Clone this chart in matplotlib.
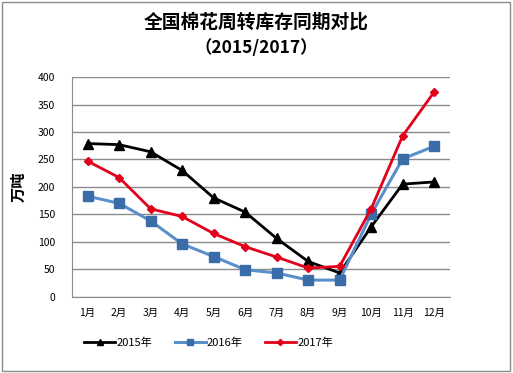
import matplotlib.pyplot as plt
from matplotlib.patches import Rectangle

plt.rcParams['font.family'] = ['Noto Sans CJK SC', 'DejaVu Sans']

months = ['1月', '2月', '3月', '4月', '5月', '6月', '7月', '8月', '9月', '10月', '11月', '12月']
y2015 = [279, 277, 264, 230, 180, 154, 106, 64, 43, 127, 205, 209]
y2016 = [183, 170, 138, 96, 73, 49, 43, 30, 30, 150, 251, 274]
y2017 = [247, 217, 160, 146, 115, 91, 72, 52, 55, 160, 293, 373]

fig = plt.figure(figsize=(5.13, 3.73), dpi=100)
ax = fig.add_axes([0.140, 0.205, 0.737, 0.588])
x = range(1, 13)

ax.plot(x, y2015, color='black', lw=2, marker='^', ms=7, label='2015年')
ax.plot(x, y2016, color='#5b8fcc', lw=2.2, marker='s', ms=7,
        mfc='#3a6ca8', mec='#3a6ca8', label='2016年')
ax.plot(x, y2017, color='#e3001b', lw=2, marker='D', ms=4.5, label='2017年')

ax.set_xlim(0.5, 12.5)
ax.set_ylim(0, 400)
ax.set_yticks(range(0, 401, 50))
ax.set_xticks(list(x))
ax.set_xticklabels(months)
ax.grid(axis='y', color='#8c8c8c', lw=1)
ax.set_axisbelow(True)
for s in ['top', 'right']:
    ax.spines[s].set_visible(False)
ax.spines['left'].set_color('#8c8c8c')
ax.spines['bottom'].set_color('#8c8c8c')
ax.tick_params(length=0, labelsize=7.5, pad=8)
ax.tick_params(axis='y', pad=12)
ax.set_ylabel('万吨', fontsize=11, fontweight='bold', labelpad=8)

fig.text(0.5, 0.94, '全国棉花周转库存同期对比', ha='center', va='center',
         fontsize=13.5, fontweight='bold')
fig.text(0.5, 0.870, '（2015/2017）', ha='center', va='center',
         fontsize=12.5, fontweight='bold')

fig.legend(loc='center left', bbox_to_anchor=(0.145, 0.08), ncol=3, frameon=False,
           fontsize=8, handlelength=2.8, handletextpad=0.1, columnspacing=2.0,
           markerscale=0.7)

fig.patches.append(Rectangle((0.004, 0.005), 0.99, 0.99, transform=fig.transFigure,
                             fill=False, edgecolor='#8c8c8c', lw=1))

plt.savefig('out.png', dpi=100)
